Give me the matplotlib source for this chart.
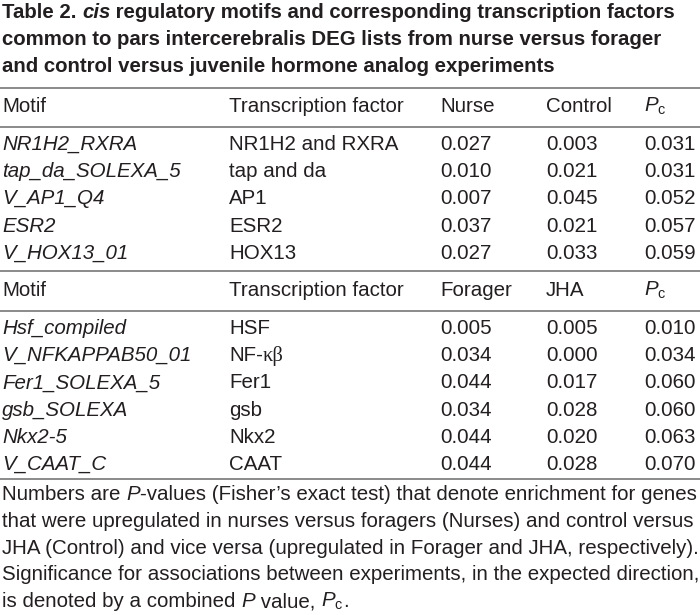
import matplotlib
matplotlib.use("Agg")
import matplotlib.pyplot as plt
from matplotlib import font_manager

# pick a condensed sans if one is installed
names = {f.name for f in font_manager.fontManager.ttflist}
FONT = "Liberation Sans Narrow" if "Liberation Sans Narrow" in names else "Liberation Sans"
SERIF = "Liberation Serif"

plt.rcParams["font.family"] = [FONT, "DejaVu Sans"]
plt.rcParams["mathtext.fontset"] = "custom"
plt.rcParams["mathtext.rm"] = FONT
plt.rcParams["mathtext.it"] = FONT + ":italic"

title_lines = [
    [("Table 2. ", "bold", "normal"), ("cis", "bold", "italic"),
     (" regulatory motifs and corresponding transcription factors", "bold", "normal")],
    [("common to pars intercerebralis DEG lists from nurse versus forager", "bold", "normal")],
    [("and control versus juvenile hormone analog experiments", "bold", "normal")],
]

headers_a = ["Motif", "Transcription factor", "Nurse", "Control", r"$P_{\mathrm{c}}$"]
motifs_a = ["NR1H2_RXRA", "tap_da_SOLEXA_5", "V_AP1_Q4", "ESR2", "V_HOX13_01"]
tfs_a = ["NR1H2 and RXRA", "tap and da", "AP1", "ESR2", "HOX13"]
nurse = [0.027, 0.010, 0.007, 0.037, 0.027]
control = [0.003, 0.021, 0.045, 0.021, 0.033]
pc_a = [0.031, 0.031, 0.052, 0.057, 0.059]

headers_b = ["Motif", "Transcription factor", "Forager", "JHA", r"$P_{\mathrm{c}}$"]
motifs_b = ["Hsf_compiled", "V_NFKAPPAB50_01", "Fer1_SOLEXA_5", "gsb_SOLEXA", "Nkx2-5", "V_CAAT_C"]
tfs_b = ["HSF", "NF-κβ", "Fer1", "gsb", "Nkx2", "CAAT"]
forager = [0.005, 0.034, 0.044, 0.034, 0.044, 0.044]
jha = [0.005, 0.000, 0.017, 0.028, 0.020, 0.028]
pc_b = [0.010, 0.034, 0.060, 0.060, 0.063, 0.070]

footnote_lines = [
    [("Numbers are ", "normal", "normal"), ("P", "normal", "italic"),
     ("-values (Fisher\u2019s exact test) that denote enrichment for genes", "normal", "normal")],
    [("that were upregulated in nurses versus foragers (Nurses) and control versus", "normal", "normal")],
    [("JHA (Control) and vice versa (upregulated in Forager and JHA, respectively).", "normal", "normal")],
    [("Significance for associations between experiments, in the expected direction,", "normal", "normal")],
    [("is denoted by a combined ", "normal", "normal"), ("P", "normal", "italic"),
     (" value, ", "normal", "normal"), (r"$P_{\mathrm{c}}$", "normal", "normal"), (".", "normal", "normal")],
]

W, H = 700, 615
fig = plt.figure(figsize=(W / 100, H / 100), dpi=100)
ax = fig.add_axes([0, 0, 1, 1])
ax.set_xlim(0, W)
ax.set_ylim(H, 0)
ax.axis("off")
renderer = fig.canvas.get_renderer()

TXT = "#231f20"
RULE = "#8a8a8a"
BODY = 14.8
TITLE = 14.7
COLS = [2, 229, 440, 546, 644]


def draw_runs(x, y, runs, size, family=None):
    # place consecutive text pieces with different styles on one baseline
    for run in runs:
        s, weight, style = run[:3]
        fam = run[3] if len(run) > 3 else family
        kw = {"family": fam} if fam else {}
        t = ax.text(x, y, s, fontsize=size, fontweight=weight, fontstyle=style,
                    color=TXT, va="baseline", ha="left", **kw)
        x += t.get_window_extent(renderer).width


def rule(y, lw=1.4):
    ax.plot([0, W], [y, y], color=RULE, lw=lw, solid_capstyle="butt")


for i, runs in enumerate(title_lines):
    draw_runs(2, 18 + i * 27, runs, TITLE)

rule(88)


def cell(x, y, s, style="normal"):
    if "κ" in s:
        # the greek letters are set in a serif face in the original
        head, greek = s.split("κ", 1)
        draw_runs(x, y, [(head, "normal", "normal"), ("κ" + greek, "normal", "normal", SERIF)], BODY)
    else:
        ax.text(x, y, s, fontsize=BODY, fontstyle=style, color=TXT, va="baseline")


def block(y_head, headers, motifs, tfs, c1, c2, pc):
    for x, h in zip(COLS, headers):
        cell(x, y_head, h)
    rule(y_head + 15)
    y0 = y_head + 38
    for i in range(len(motifs)):
        y = y0 + i * 27.2
        cell(COLS[0], y, motifs[i], "italic")
        cell(COLS[1], y, tfs[i])
        cell(COLS[2], y, f"{c1[i]:.3f}")
        cell(COLS[3], y, f"{c2[i]:.3f}")
        cell(COLS[4], y, f"{pc[i]:.3f}")


block(112, headers_a, motifs_a, tfs_a, nurse, control, pc_a)
rule(271)
block(296, headers_b, motifs_b, tfs_b, forager, jha, pc_b)
rule(479)

for i, runs in enumerate(footnote_lines):
    draw_runs(2, 500 + i * 26.8, runs, BODY)

fig.savefig("out.png", dpi=100)
